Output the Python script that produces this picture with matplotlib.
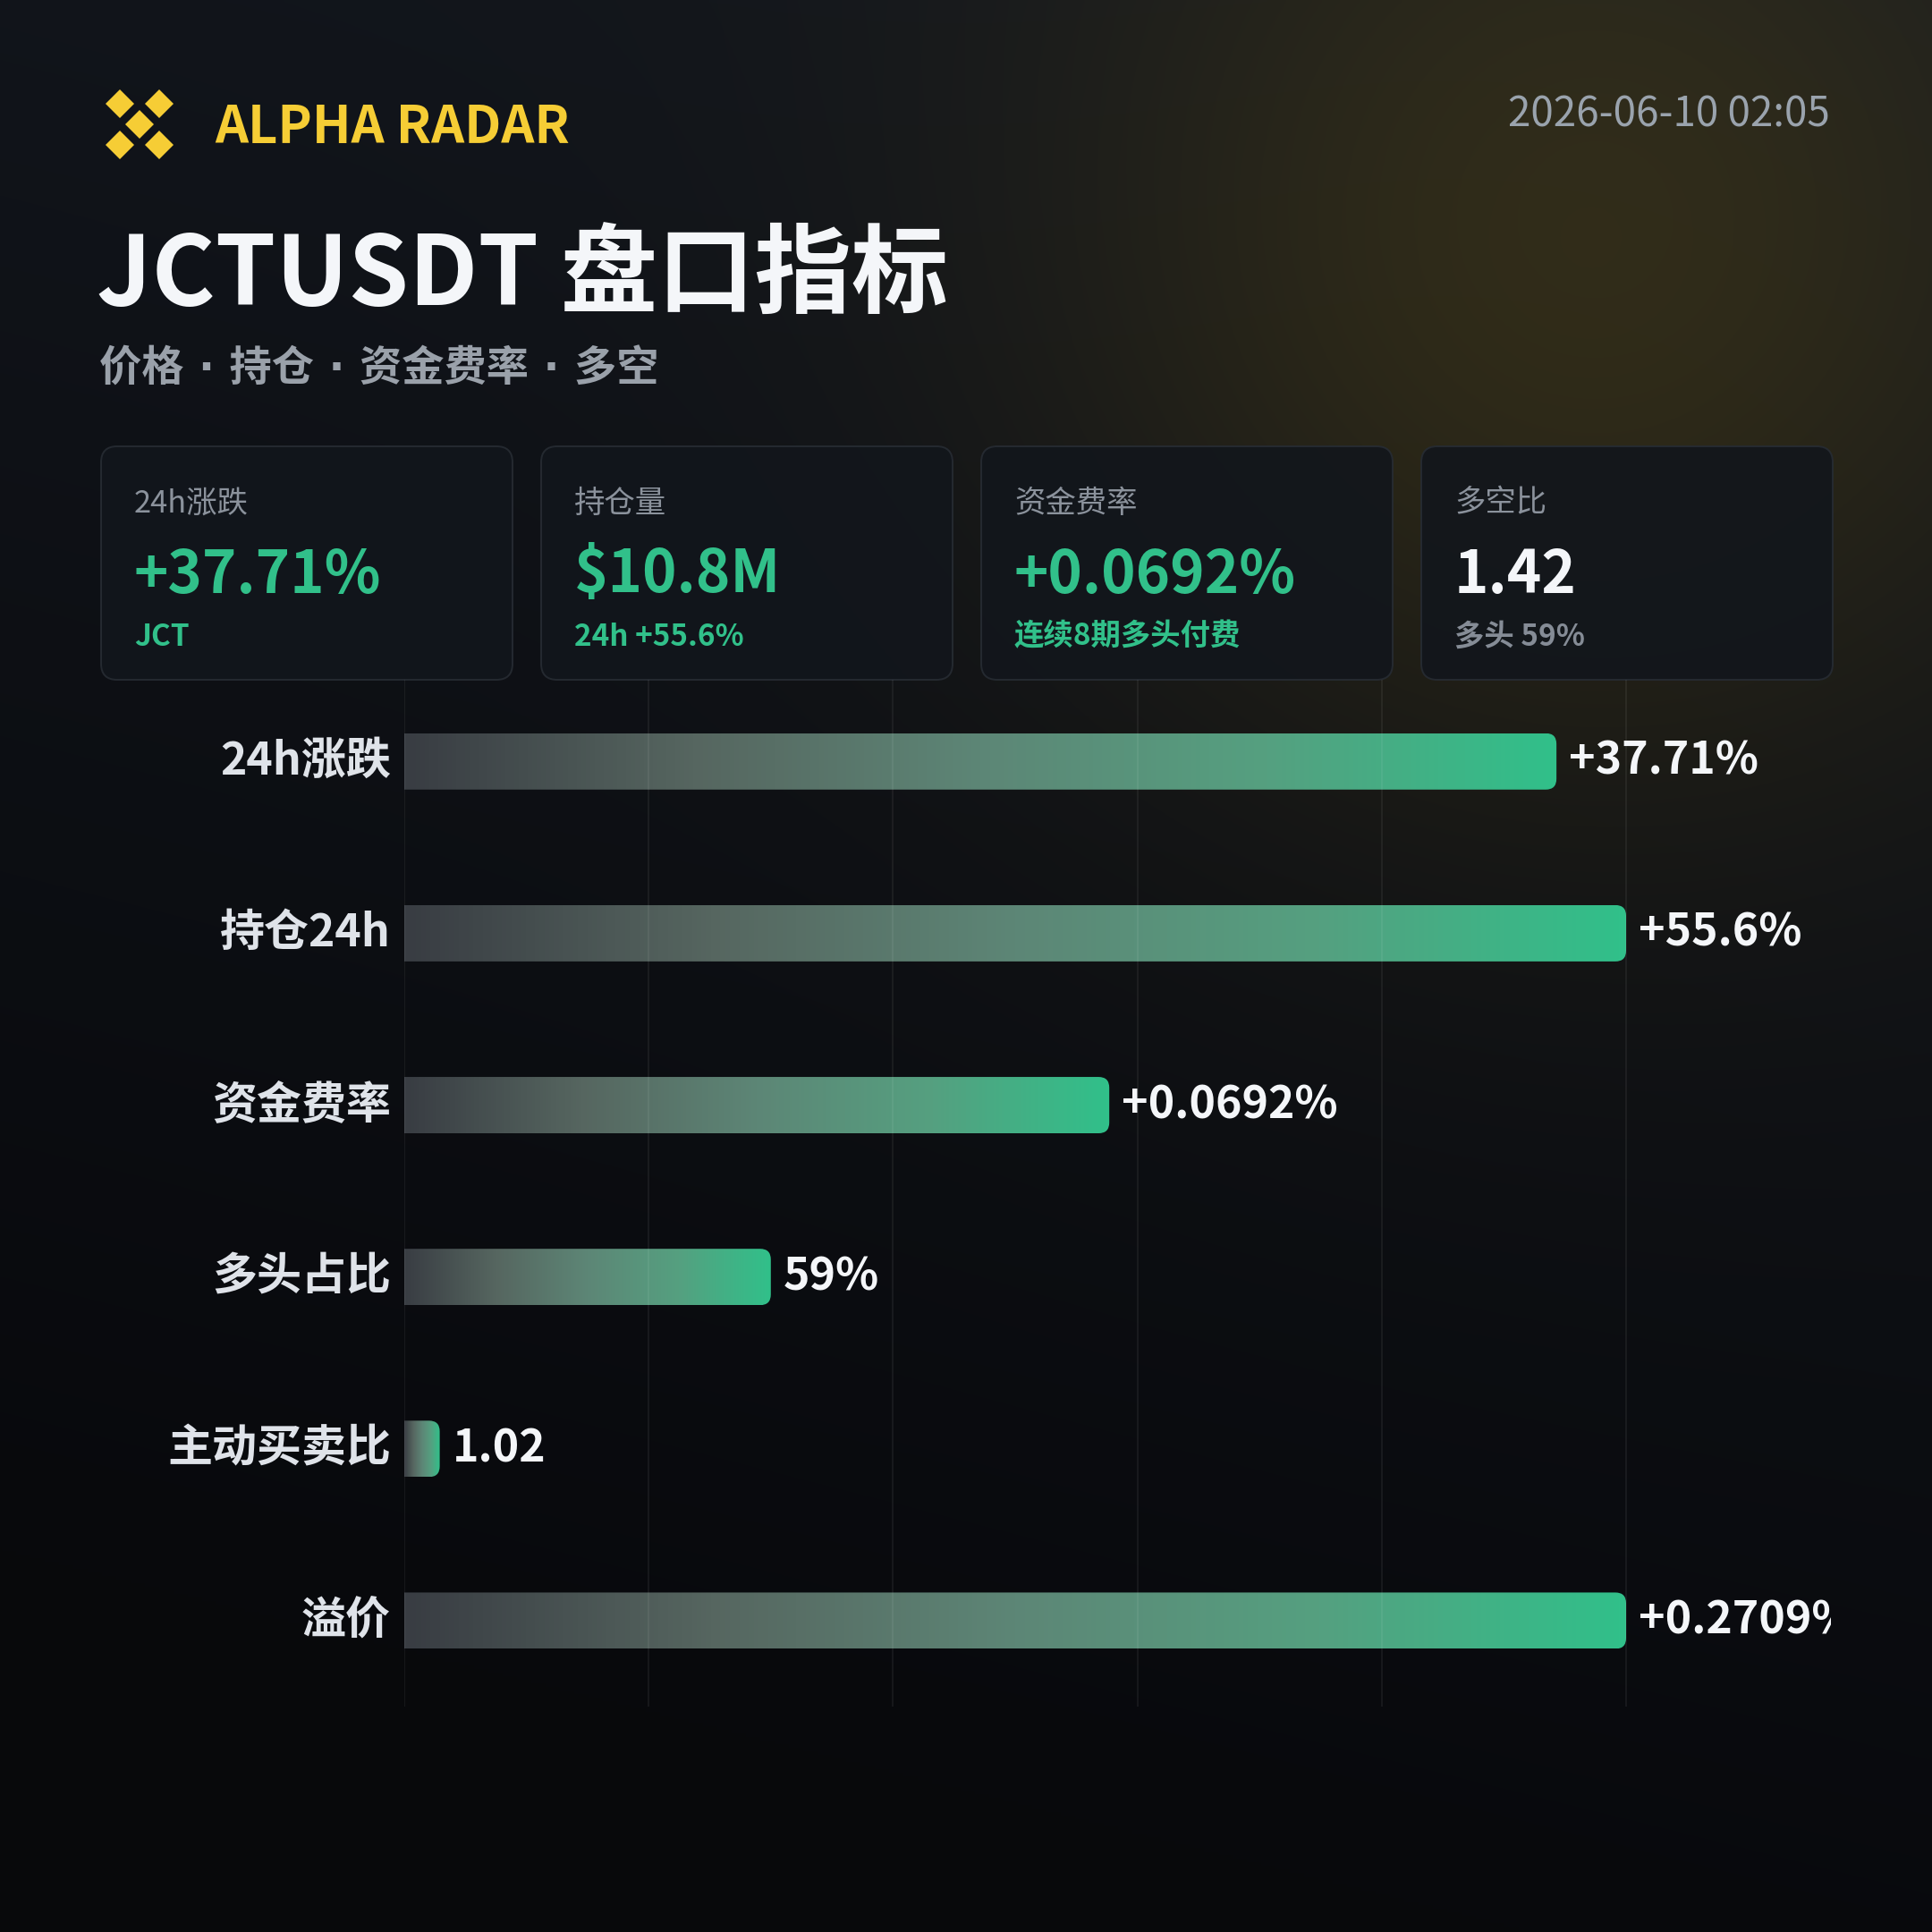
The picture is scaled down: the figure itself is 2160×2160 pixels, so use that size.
import numpy as np
import matplotlib
matplotlib.use("Agg")
import matplotlib.pyplot as plt
from matplotlib.patches import FancyBboxPatch, Polygon
from matplotlib.colors import LinearSegmentedColormap

plt.rcParams['font.family'] = ['Noto Sans CJK SC', 'DejaVu Sans']

# colours
GREEN = '#31c08a'
WHITE = '#f4f6f9'
GRAY = '#858c96'
YELLOW = '#f6cd35'

# ---- data ----
brand = "ALPHA RADAR"
timestamp = "2026-06-10 02:05"
title = "JCTUSDT 盘口指标"
subtitle = "价格 · 持仓 · 资金费率 · 多空"

card_labels = ["24h涨跌", "持仓量", "资金费率", "多空比"]
card_values = ["+37.71%", "$10.8M", "+0.0692%", "1.42"]
card_subs = ["JCT", "24h +55.6%", "连续8期多头付费", "多头 59%"]
card_value_colors = [GREEN, GREEN, GREEN, WHITE]
card_sub_colors = [GREEN, GREEN, GREEN, GRAY]

categories = ["24h涨跌", "持仓24h", "资金费率", "多头占比", "主动买卖比", "溢价"]
scores = [94.3, 100, 57.7, 30.0, 2.9, 100]  # bar length, % of full scale
value_labels = ["+37.71%", "+55.6%", "+0.0692%", "59%", "1.02", "+0.2709%"]
grid_ticks = [0, 20, 40, 60, 80, 100]

# ---- canvas (pixel coordinates) ----
W = H = 2160
DPI = 200
fig = plt.figure(figsize=(W / DPI, H / DPI), dpi=DPI)
bg = fig.add_axes([0, 0, 1, 1])
bg.axis('off')

# background: dark gradient + soft gold glow at top right
yy, xx = np.mgrid[0:H:4, 0:W:4].astype(float)
top = np.array([20, 24, 31]) / 255
bot = np.array([8, 9, 12]) / 255
t = np.clip((yy + 0.25 * (W - xx)) / (H * 1.05), 0, 1)[..., None]
img = top * (1 - t) + bot * t
d = np.hypot(xx - 1770, yy - 290)
a = (0.14 * np.exp(-(d / 600) ** 2))[..., None]
gold = np.array([240, 185, 11]) / 255
img = img * (1 - a) + gold * a
bg.imshow(img, extent=(0, W, H, 0), interpolation='bilinear', zorder=0)
bg.set_aspect('auto')
bg.set_xlim(0, W)
bg.set_ylim(H, 0)

# logo: five diamonds in an X
logo_cx, logo_cy, rr = 156, 139, 16
for dx, dy in [(-22, -23), (22, -23), (0, 0), (-22, 23), (22, 23)]:
    cx, cy = logo_cx + dx, logo_cy + dy
    bg.add_patch(Polygon([(cx, cy - rr), (cx + rr, cy), (cx, cy + rr), (cx - rr, cy)],
                         closed=True, fc=YELLOW, ec='none', zorder=2))

bg.text(240, 143, brand, fontsize=20.8, color=YELLOW, va='center', fontweight='bold', zorder=3)
bg.text(2046, 128, timestamp, fontsize=16.5, color='#9aa3ad', va='center', ha='right', zorder=3)
bg.text(108, 311, title, fontsize=39, color=WHITE, va='center', fontweight='bold', zorder=3)
bg.text(111, 414, subtitle, fontsize=17, color='#9aa1aa', va='center', fontweight='bold',
        family=['DejaVu Sans', 'Noto Sans CJK SC'], zorder=3)

# summary cards
card_x0, card_w, card_gap = 113, 460, 32
card_y0, card_h = 499, 261
for i in range(len(card_labels)):
    x = card_x0 + i * (card_w + card_gap)
    bg.add_patch(FancyBboxPatch((x, card_y0), card_w, card_h,
                                boxstyle="round,pad=0,rounding_size=18",
                                fc='#12161c', ec='#272c33', lw=0.7, alpha=0.9, zorder=2))
    bg.text(x + 37, 563, card_labels[i], fontsize=12.4, color='#8b929c', va='center', zorder=3)
    bg.text(x + 37, 643, card_values[i], fontsize=23.5, color=card_value_colors[i],
            va='center', fontweight='bold', zorder=3)
    bg.text(x + 37, 712, card_subs[i], fontsize=12, color=card_sub_colors[i],
            va='center', fontweight='bold', zorder=3)

# ---- bar chart ----
L, R, T, B = 452, 2047, 760, 1908
X100 = 1818  # pixel position of score 100
ax = fig.add_axes([L / W, 1 - B / H, (R - L) / W, (B - T) / H])
ax.axis('off')

px_x = (X100 - L) / 100
px_y = (B - T) / (len(categories) - 0.5 + 0.475)
bar_h = 63 / px_y
rad = 12 / px_x
asp = px_x / px_y

for g in grid_ticks:
    ax.axvline(g, color='white', alpha=0.07, lw=0.6, zorder=3)

cmap = LinearSegmentedColormap.from_list(
    'bar', ['#393d43', '#566660', '#5d8676', '#55a080', GREEN])
grad = np.linspace(0, 1, 256)[None, :]

for i, (cat, s, lab) in enumerate(zip(categories, scores, value_labels)):
    clip = FancyBboxPatch((-2 * rad, i - bar_h / 2), s + 2 * rad, bar_h,
                          boxstyle=f"round,pad=0,rounding_size={rad}",
                          mutation_aspect=asp, fc='none', ec='none')
    ax.add_patch(clip)
    im = ax.imshow(grad, cmap=cmap, extent=(0, s, i + bar_h / 2, i - bar_h / 2),
                   aspect='auto', interpolation='bilinear', zorder=2)
    im.set_clip_path(clip)
    ax.text(-15 / px_x, i, cat, ha='right', va='center', fontsize=18,
            color='#dfe3e9', fontweight='bold', clip_on=False)
    ax.text(s + 14 / px_x, i, lab, ha='left', va='center', fontsize=18,
            color=WHITE, fontweight='bold', clip_on=True)

ax.set_xlim(0, 100 * (R - L) / (X100 - L))
ax.set_ylim(len(categories) - 0.5, -0.475)

fig.savefig("out.png", dpi=DPI, facecolor='#0b0e13')
